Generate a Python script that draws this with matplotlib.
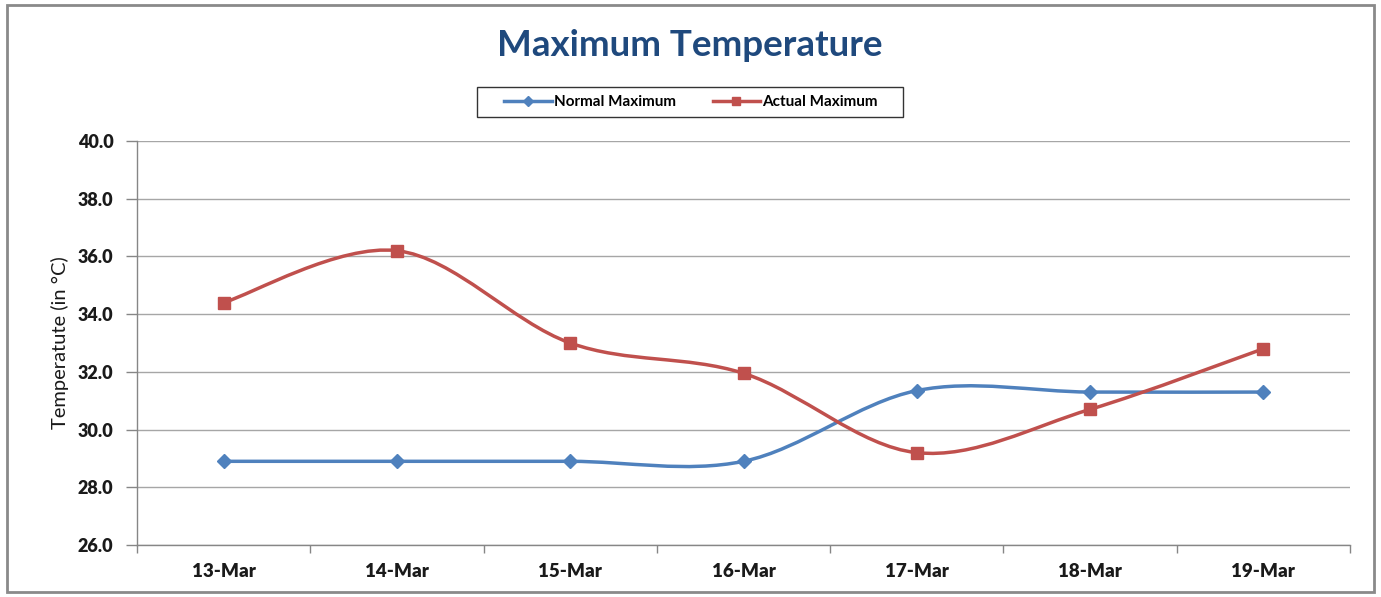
import matplotlib
matplotlib.use("Agg")
import matplotlib.pyplot as plt
from matplotlib.path import Path
from matplotlib.patches import PathPatch, Rectangle
from matplotlib.lines import Line2D
import numpy as np

dates = ["13-Mar", "14-Mar", "15-Mar", "16-Mar", "17-Mar", "18-Mar", "19-Mar"]
normal_max = [28.9, 28.9, 28.9, 28.9, 31.35, 31.3, 31.3]
actual_max = [34.4, 36.2, 33.0, 31.95, 29.2, 30.7, 32.8]
y_ticks = [26.0, 28.0, 30.0, 32.0, 34.0, 36.0, 38.0, 40.0]

BLUE = "#4F81BD"
RED = "#C0504D"
FONT = "Lato"
W, H = 1381, 597


def smooth_path(xs, ys):
    """Cubic Bezier path through the points (Catmull-Rom style tangents)."""
    pts = np.column_stack([xs, ys]).astype(float)
    n = len(pts)
    verts = [pts[0]]
    codes = [Path.MOVETO]
    for i in range(n - 1):
        p_prev = pts[i - 1] if i > 0 else pts[i]
        p0, p1 = pts[i], pts[i + 1]
        p_next = pts[i + 2] if i + 2 < n else pts[i + 1]
        c1 = p0 + (p1 - p_prev) / 6.0
        c2 = p1 - (p_next - p0) / 6.0
        verts += [c1, c2, p1]
        codes += [Path.CURVE4] * 3
    return Path(verts, codes)


fig = plt.figure(figsize=(W / 100, H / 100), dpi=100)
ax = fig.add_axes([137 / W, 52 / H, (1350 - 137) / W, (545 - 141) / H])

x = np.arange(len(dates))
for vals, color, marker, ms in [(normal_max, BLUE, "D", 7),
                                (actual_max, RED, "s", 9)]:
    ax.add_patch(PathPatch(smooth_path(x, vals), facecolor="none",
                           edgecolor=color, lw=2.5, zorder=3,
                           capstyle="round", joinstyle="round"))
    ax.plot(x, vals, linestyle="none", marker=marker, ms=ms, color=color,
            markeredgecolor=color, zorder=4)

ax.set_xlim(-0.5, len(dates) - 0.5)
ax.set_ylim(26, 40)
ax.set_yticks(y_ticks)
ax.set_yticklabels([f"{v:.1f}" for v in y_ticks], fontfamily=FONT,
                   fontweight="heavy", fontsize=13)
ax.set_xticks(x)
ax.set_xticklabels(dates, fontfamily=FONT, fontweight="heavy", fontsize=13.5)
ax.set_xticks(np.arange(-0.5, len(dates), 1.0), minor=True)
ax.tick_params(axis="x", which="major", length=0, pad=13, colors="#1a1a1a")
ax.tick_params(axis="x", which="minor", length=6, width=1, color="#868686",
               direction="out")
ax.tick_params(axis="y", length=8, width=1, color="#868686", pad=9,
               labelcolor="#1a1a1a")

ax.grid(axis="y", color="#A6A6A6", lw=1)
ax.set_axisbelow(True)
for side in ("top", "right"):
    ax.spines[side].set_visible(False)
for side in ("left", "bottom"):
    ax.spines[side].set_color("#868686")
    ax.spines[side].set_linewidth(1)

ax.set_ylabel("Temperatute (in °C)", fontfamily=FONT, fontsize=14.5,
              color="#1a1a1a", labelpad=6)

fig.text(0.4996, 1 - 45 / H, "Maximum Temperature", ha="center",
         va="center", fontfamily=FONT, fontweight="bold", fontsize=26.5,
         color="#1F497D")

# legend entries without their own frame; the box is drawn separately
handles = [Line2D([], [], color=BLUE, lw=2.5, marker="D", ms=5),
           Line2D([], [], color=RED, lw=2.5, marker="s", ms=6)]
fig.legend(handles, ["Normal Maximum", "Actual Maximum"],
           loc="center", bbox_to_anchor=(691 / W, 1 - 102 / H),
           ncol=2, frameon=False, borderpad=0.3,
           handlelength=3.1, handletextpad=0.15, columnspacing=2.4,
           borderaxespad=0,
           prop={"family": FONT, "weight": "bold", "size": 11})
fig.patches.append(Rectangle((477 / W, 1 - 117 / H), (903 - 477) / W,
                             30 / H, transform=fig.transFigure,
                             fill=False, edgecolor="#333333", lw=1))

# outer chart border
fig.patches.append(Rectangle((7 / W, 5 / H), (1374 - 7) / W,
                             (592 - 5) / H, transform=fig.transFigure,
                             fill=False, edgecolor="#8A8A8A", lw=2))

fig.savefig("out.png", dpi=100)
